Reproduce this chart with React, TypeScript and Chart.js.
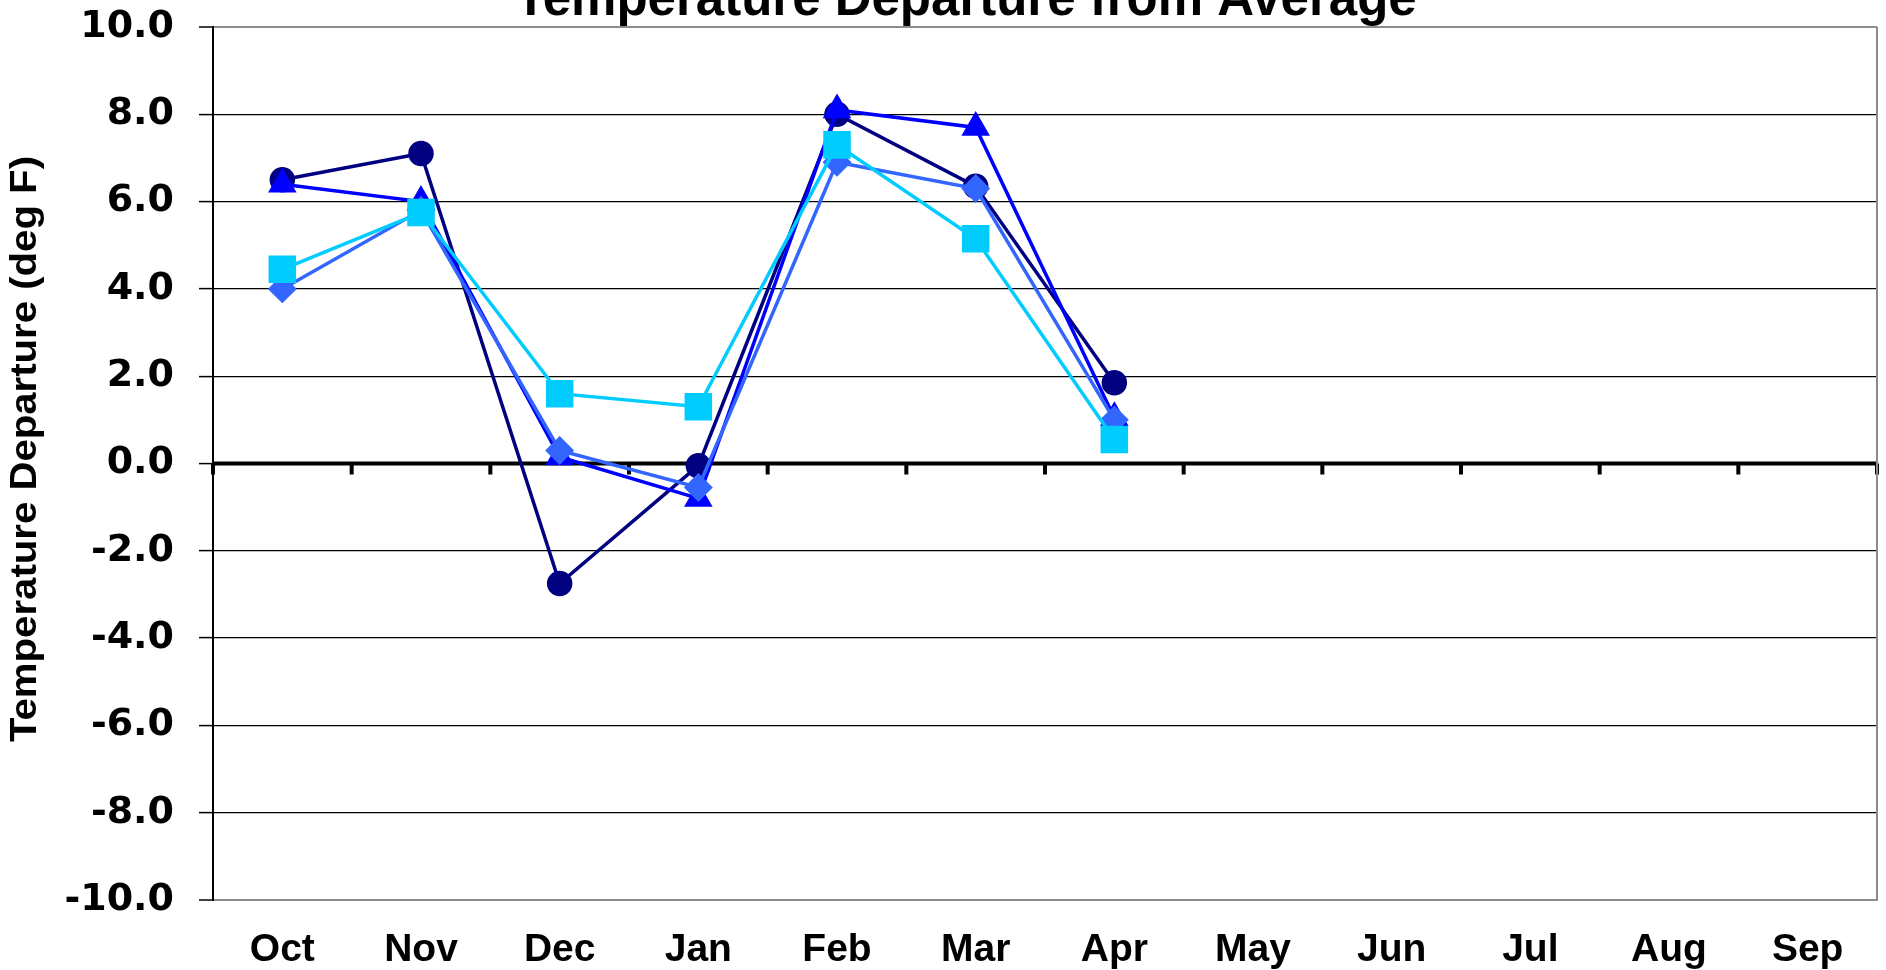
import { useEffect, useRef } from "react";
import { Chart, registerables } from "chart.js";

Chart.register(...registerables);

const months = ["Oct", "Nov", "Dec", "Jan", "Feb", "Mar", "Apr", "May", "Jun", "Jul", "Aug", "Sep"];
const seriesCircle = [6.5, 7.1, -2.75, -0.05, 8.0, 6.35, 1.85, null, null, null, null, null];
const seriesTriangle = [6.4, 6.0, 0.15, -0.8, 8.1, 7.7, 1.05, null, null, null, null, null];
const seriesDiamond = [4.0, 5.8, 0.3, -0.55, 6.9, 6.3, 1.0, null, null, null, null, null];
const seriesSquare = [4.45, 5.75, 1.6, 1.3, 7.3, 5.15, 0.55, null, null, null, null, null];
const yMin = -10;
const yMax = 10;
const yStep = 2;
const titleText = "Temperature Departure from Average";
const yTitleText = "Temperature Departure (deg F)";

const decorPlugin = {
  id: "decor",
  beforeDatasetsDraw(chart: any) {
    const { ctx, chartArea } = chart;
    const xs = chart.scales.x;
    const ys = chart.scales.y;
    const y0 = ys.getPixelForValue(0);
    ctx.save();
    ctx.fillStyle = "#000";
    ctx.fillRect(chartArea.left, y0 - 2, chartArea.right - chartArea.left, 4);
    const step = xs.getPixelForValue(1) - xs.getPixelForValue(0);
    const first = xs.getPixelForValue(0) - step / 2;
    for (let i = 0; i <= months.length; i++) {
      const x = first + i * step;
      ctx.fillRect(x - 2, y0, 4, 11);
    }
    ctx.strokeStyle = "#8c8c8c";
    ctx.lineWidth = 2;
    ctx.beginPath();
    ctx.moveTo(chartArea.right, chartArea.top);
    ctx.lineTo(chartArea.right, chartArea.bottom);
    ctx.stroke();
    ctx.restore();
  },
  afterDraw(chart: any) {
    const { ctx } = chart;
    ctx.save();
    ctx.fillStyle = "#000";
    ctx.font = 'bold 51px "Liberation Sans", Arial, sans-serif';
    ctx.textAlign = "center";
    ctx.textBaseline = "alphabetic";
    ctx.fillText(titleText, 966, 15);
    ctx.restore();

    ctx.save();
    ctx.fillStyle = "#000";
    ctx.font = 'bold 36px "Liberation Sans", Arial, sans-serif';
    ctx.translate(26, 449);
    ctx.rotate(-Math.PI / 2);
    const w = ctx.measureText(yTitleText).width;
    ctx.scale(586 / w, 1);
    ctx.textAlign = "center";
    ctx.textBaseline = "middle";
    ctx.fillText(yTitleText, 0, 0);
    ctx.restore();
  },
};

export default function App() {
  const ref = useRef<HTMLCanvasElement | null>(null);

  useEffect(() => {
    document.body.style.margin = "0";
    const canvas = ref.current;
    if (!canvas) return;
    const chart = new Chart(canvas, {
      type: "line",
      data: {
        labels: months,
        datasets: [
          {
            label: "Circle",
            data: seriesCircle,
            borderColor: "#000080",
            backgroundColor: "#000080",
            pointBackgroundColor: "#000080",
            pointBorderColor: "#000080",
            pointStyle: "circle",
            pointRadius: 11,
            borderWidth: 3.5,
            order: 4,
          },
          {
            label: "Triangle",
            data: seriesTriangle,
            borderColor: "#0000FF",
            backgroundColor: "#0000FF",
            pointBackgroundColor: "#0000FF",
            pointBorderColor: "#0000FF",
            pointStyle: "triangle",
            pointRadius: 13,
            borderWidth: 3.5,
            order: 3,
          },
          {
            label: "Diamond",
            data: seriesDiamond,
            borderColor: "#3366FF",
            backgroundColor: "#3366FF",
            pointBackgroundColor: "#3366FF",
            pointBorderColor: "#3366FF",
            pointStyle: "rectRot",
            pointRadius: 12,
            borderWidth: 3.5,
            order: 2,
          },
          {
            label: "Square",
            data: seriesSquare,
            borderColor: "#00CCFF",
            backgroundColor: "#00CCFF",
            pointBackgroundColor: "#00CCFF",
            pointBorderColor: "#00CCFF",
            pointStyle: "rect",
            pointRadius: 17,
            borderWidth: 3.5,
            order: 1,
          },
        ],
      },
      options: {
        animation: false,
        responsive: false,
        maintainAspectRatio: false,
        layout: { autoPadding: false, padding: { top: 27, right: 9, left: 0, bottom: 0 } },
        elements: {
          line: { tension: 0 },
          point: { borderWidth: 1, hoverRadius: 11 },
        },
        plugins: {
          legend: { display: false },
          title: { display: false },
          tooltip: { enabled: false },
        },
        scales: {
          x: {
            type: "category",
            offset: true,
            grid: { display: false, offset: true },
            border: { display: true, color: "#8c8c8c", width: 2 },
            ticks: {
              color: "#000",
              padding: 19,
              maxRotation: 0,
              autoSkip: false,
              font: { family: '"Liberation Sans", Arial, sans-serif', size: 39, weight: "bold" },
            },
            afterFit(scale: any) {
              scale.height = 70;
              scale.paddingLeft = 0;
              scale.paddingRight = 0;
              scale.paddingTop = 0;
              scale.paddingBottom = 0;
            },
          },
          y: {
            min: yMin,
            max: yMax,
            ticks: {
              stepSize: yStep,
              color: "#000",
              padding: 25,
              callback: (v: any) => Number(v).toFixed(1),
              font: { family: '"DejaVu Sans", Verdana, sans-serif', size: 38, weight: "bold" },
            },
            grid: {
              color: (c: any) => {
                const v = c.tick ? c.tick.value : 0;
                if (v === yMax || v === yMin) return "#8c8c8c";
                if (v === 0) return "rgba(0,0,0,0)";
                return "#000";
              },
              lineWidth: (c: any) => {
                const v = c.tick ? c.tick.value : 0;
                if (v === yMax || v === yMin) return 2;
                return 1.2;
              },
              tickColor: "#000",
              tickWidth: 1.5,
              tickLength: 14,
            },
            border: { display: true, color: "#000", width: 2 },
            afterFit(scale: any) {
              scale.width = 213;
              scale.paddingTop = 0;
              scale.paddingBottom = 0;
              scale.paddingLeft = 0;
              scale.paddingRight = 0;
            },
          },
        },
      },
      plugins: [decorPlugin],
    });
    return () => chart.destroy();
  }, []);

  return (
    <div style={{ width: 1886, height: 970 }}>
      <canvas ref={ref} width={1886} height={970} style={{ display: "block", width: 1886, height: 970 }} />
    </div>
  );
}
